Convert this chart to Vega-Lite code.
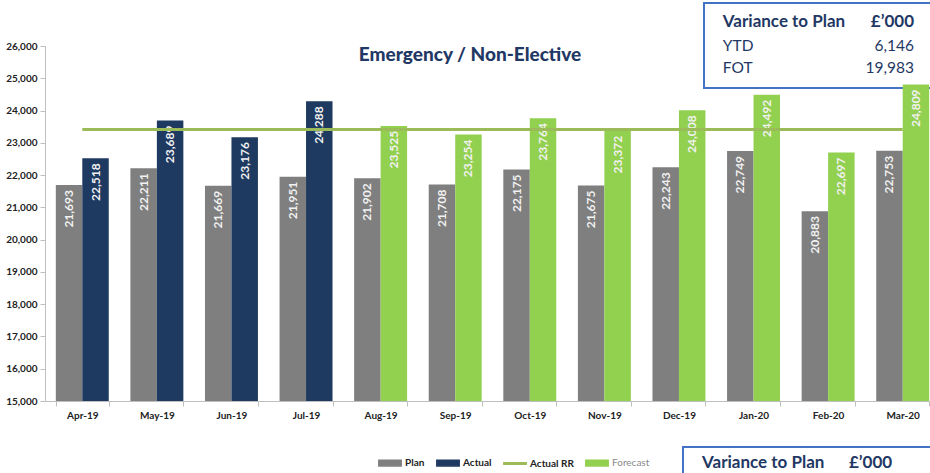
{
  "$schema": "https://vega.github.io/schema/vega-lite/v6.json",
  "autosize": {"type": "none"},
  "width": 885,
  "height": 355,
  "padding": {"left": 45, "top": 46, "right": 0, "bottom": 72},
  "background": "white",
  "config": {"view": {"stroke": null}, "font": "Lato"},
  "datasets": {
    "bars": [
      {"month": "Apr-19", "series": "Plan", "measure": "Plan", "value": 21693},
      {"month": "Apr-19", "series": "Actual", "measure": "Outturn", "value": 22518},
      {"month": "May-19", "series": "Plan", "measure": "Plan", "value": 22211},
      {"month": "May-19", "series": "Actual", "measure": "Outturn", "value": 23689},
      {"month": "Jun-19", "series": "Plan", "measure": "Plan", "value": 21669},
      {"month": "Jun-19", "series": "Actual", "measure": "Outturn", "value": 23176},
      {"month": "Jul-19", "series": "Plan", "measure": "Plan", "value": 21951},
      {"month": "Jul-19", "series": "Actual", "measure": "Outturn", "value": 24288},
      {"month": "Aug-19", "series": "Plan", "measure": "Plan", "value": 21902},
      {"month": "Aug-19", "series": "Forecast", "measure": "Outturn", "value": 23525},
      {"month": "Sep-19", "series": "Plan", "measure": "Plan", "value": 21708},
      {"month": "Sep-19", "series": "Forecast", "measure": "Outturn", "value": 23254},
      {"month": "Oct-19", "series": "Plan", "measure": "Plan", "value": 22175},
      {"month": "Oct-19", "series": "Forecast", "measure": "Outturn", "value": 23764},
      {"month": "Nov-19", "series": "Plan", "measure": "Plan", "value": 21675},
      {"month": "Nov-19", "series": "Forecast", "measure": "Outturn", "value": 23372},
      {"month": "Dec-19", "series": "Plan", "measure": "Plan", "value": 22243},
      {"month": "Dec-19", "series": "Forecast", "measure": "Outturn", "value": 24008},
      {"month": "Jan-20", "series": "Plan", "measure": "Plan", "value": 22749},
      {"month": "Jan-20", "series": "Forecast", "measure": "Outturn", "value": 24492},
      {"month": "Feb-20", "series": "Plan", "measure": "Plan", "value": 20883},
      {"month": "Feb-20", "series": "Forecast", "measure": "Outturn", "value": 22697},
      {"month": "Mar-20", "series": "Plan", "measure": "Plan", "value": 22753},
      {"month": "Mar-20", "series": "Forecast", "measure": "Outturn", "value": 24809}
    ],
    "rr": [
      {"month": "Apr-19", "rr": 23410}, {"month": "May-19", "rr": 23410}, {"month": "Jun-19", "rr": 23410},
      {"month": "Jul-19", "rr": 23410}, {"month": "Aug-19", "rr": 23410}, {"month": "Sep-19", "rr": 23410},
      {"month": "Oct-19", "rr": 23410}, {"month": "Nov-19", "rr": 23410}, {"month": "Dec-19", "rr": 23410},
      {"month": "Jan-20", "rr": 23410}, {"month": "Feb-20", "rr": 23410}, {"month": "Mar-20", "rr": 23410}
    ],
    "variance": [
      {"item": "YTD", "variance": 6146},
      {"item": "FOT", "variance": 19983}
    ],
    "one": [{}]
  },
  "encoding": {
    "x": {
      "field": "month", "type": "nominal", "sort": null,
      "scale": {"domain": ["Apr-19","May-19","Jun-19","Jul-19","Aug-19","Sep-19","Oct-19","Nov-19","Dec-19","Jan-20","Feb-20","Mar-20"], "range": [0, 895], "paddingInner": 0.29, "paddingOuter": 0.145},
      "axis": {"title": null, "labelAngle": 0, "labelFont": "Lato", "labelFontSize": 10, "labelFontWeight": "bold", "labelColor": "#222222", "domainColor": "#bfbfbf", "tickColor": "#bfbfbf", "tickSize": 5, "tickBand": "extent", "labelPadding": 4, "grid": false}
    },
    "y": {
      "type": "quantitative",
      "scale": {"domain": [15000, 26000], "nice": false, "zero": false},
      "axis": {"title": null, "values": [15000,16000,17000,18000,19000,20000,21000,22000,23000,24000,25000,26000], "labelExpr": "format(datum.value, ',')", "labelFont": "Lato", "labelFontSize": 10, "labelFontWeight": "bold", "labelColor": "#222222", "domainColor": "#bfbfbf", "tickColor": "#bfbfbf", "tickSize": 5, "labelPadding": 3, "grid": false}
    }
  },
  "layer": [
    {
      "data": {"name": "one"},
      "mark": {"type": "rect", "fill": "white", "stroke": "#4472c4", "strokeWidth": 2, "x2Offset": 80},
      "encoding": {
        "x": {"datum": "Dec-19", "bandPosition": 0.973},
        "x2": {"datum": "Mar-20"},
        "y": {"datum": 27332},
        "y2": {"datum": 24699}
      }
    },
    {
      "data": {"name": "one"},
      "mark": {"type": "rect", "fill": "white", "stroke": "#4472c4", "strokeWidth": 2, "x2Offset": 80},
      "encoding": {
        "x": {"datum": "Dec-19", "bandPosition": 0.576},
        "x2": {"datum": "Mar-20"},
        "y": {"datum": 13575},
        "y2": {"datum": 12000}
      }
    },
    {
      "data": {"name": "one"},
      "mark": {"type": "text", "text": "Emergency / Non-Elective", "align": "center", "baseline": "middle", "font": "Lato", "fontSize": 19, "fontWeight": 900, "color": "#1f3864"},
      "encoding": {"x": {"datum": "Sep-19", "bandPosition": 0.78}, "y": {"datum": 25721}}
    },
    {
      "data": {"name": "bars"},
      "mark": {"type": "bar"},
      "encoding": {
        "y": {"field": "value", "type": "quantitative"},
        "y2": {"datum": 15000},
        "xOffset": {"field": "measure", "type": "nominal", "sort": ["Plan", "Outturn"], "scale": {"paddingInner": 0, "paddingOuter": 0}},
        "color": {
          "field": "series", "type": "nominal",
          "scale": {"domain": ["Plan", "Actual", "Actual RR", "Forecast"], "range": ["#7f7f7f", "#1f3a60", "#9bbb59", "#92d050"]},
          "legend": {
            "title": null, "orient": "none", "direction": "horizontal", "legendX": 333, "legendY": 405,
            "symbolSize": 500, "labelFont": "Lato", "labelFontSize": 10, "labelFontWeight": "bold", "labelColor": "#222222",
            "columnPadding": 8, "labelOffset": 3,
            "encode": {
              "symbols": {"update": {
                "shape": {"signal": "datum.value === 'Actual RR' ? 'M-1,-0.07H1V0.07H-1Z' : 'M-1,-0.25H1V0.25H-1Z'"},
                "fill": {"signal": "scale('color', datum.value)"},
                "stroke": {"value": "transparent"},
                "opacity": {"value": 1}
              }},
              "labels": {"update": {
                "fill": {"signal": "datum.value === 'Forecast' ? '#8a8a8a' : '#222222'"},
                "fontWeight": {"signal": "datum.value === 'Forecast' ? 'normal' : 'bold'"}
              }}
            }
          }
        }
      }
    },
    {
      "data": {"name": "bars"},
      "mark": {"type": "text", "angle": 270, "align": "right", "baseline": "middle", "dx": -5, "font": "Lato", "fontSize": 12, "fontWeight": "bold", "color": "#f2f2f2"},
      "encoding": {
        "y": {"field": "value", "type": "quantitative"},
        "xOffset": {"field": "measure", "type": "nominal", "sort": ["Plan", "Outturn"]},
        "text": {"field": "value", "type": "quantitative", "format": ","}
      }
    },
    {
      "data": {"name": "rr"},
      "mark": {"type": "line", "strokeWidth": 3},
      "encoding": {
        "y": {"field": "rr", "type": "quantitative"},
        "color": {"datum": "Actual RR"}
      }
    },
    {
      "data": {"name": "one"},
      "mark": {"type": "text", "text": "Variance to Plan", "align": "left", "baseline": "middle", "font": "Lato", "fontSize": 17, "fontWeight": "bold", "color": "#1f3864"},
      "encoding": {"x": {"datum": "Jan-20", "bandPosition": -0.08}, "y": {"datum": 26734}}
    },
    {
      "data": {"name": "one"},
      "mark": {"type": "text", "text": "£’000", "align": "right", "baseline": "middle", "font": "Lato", "fontSize": 17, "fontWeight": "bold", "color": "#1f3864"},
      "encoding": {"x": {"datum": "Mar-20", "bandPosition": 0.714}, "y": {"datum": 26734}}
    },
    {
      "data": {"name": "variance"},
      "transform": [{"filter": "datum.item === 'YTD'"}],
      "mark": {"type": "text", "align": "left", "baseline": "middle", "font": "Lato", "fontSize": 15.5, "color": "#1f3864"},
      "encoding": {"x": {"datum": "Jan-20", "bandPosition": -0.08}, "y": {"datum": 26009}, "text": {"field": "item"}}
    },
    {
      "data": {"name": "variance"},
      "transform": [{"filter": "datum.item === 'YTD'"}],
      "mark": {"type": "text", "align": "right", "baseline": "middle", "font": "Lato", "fontSize": 15.5, "color": "#1f3864"},
      "encoding": {"x": {"datum": "Mar-20", "bandPosition": 0.714}, "y": {"datum": 26009}, "text": {"field": "variance", "type": "quantitative", "format": ","}}
    },
    {
      "data": {"name": "variance"},
      "transform": [{"filter": "datum.item === 'FOT'"}],
      "mark": {"type": "text", "align": "left", "baseline": "middle", "font": "Lato", "fontSize": 15.5, "color": "#1f3864"},
      "encoding": {"x": {"datum": "Jan-20", "bandPosition": -0.08}, "y": {"datum": 25328}, "text": {"field": "item"}}
    },
    {
      "data": {"name": "variance"},
      "transform": [{"filter": "datum.item === 'FOT'"}],
      "mark": {"type": "text", "align": "right", "baseline": "middle", "font": "Lato", "fontSize": 15.5, "color": "#1f3864"},
      "encoding": {"x": {"datum": "Mar-20", "bandPosition": 0.714}, "y": {"datum": 25328}, "text": {"field": "variance", "type": "quantitative", "format": ","}}
    },
    {
      "data": {"name": "one"},
      "mark": {"type": "text", "text": "Variance to Plan", "align": "left", "baseline": "middle", "font": "Lato", "fontSize": 17, "fontWeight": "bold", "color": "#1f3864"},
      "encoding": {"x": {"datum": "Dec-19", "bandPosition": 0.935}, "y": {"datum": 13080}}
    },
    {
      "data": {"name": "one"},
      "mark": {"type": "text", "text": "£’000", "align": "right", "baseline": "middle", "font": "Lato", "fontSize": 17, "fontWeight": "bold", "color": "#1f3864"},
      "encoding": {"x": {"datum": "Mar-20", "bandPosition": 0.30}, "y": {"datum": 13080}}
    }
  ]
}
